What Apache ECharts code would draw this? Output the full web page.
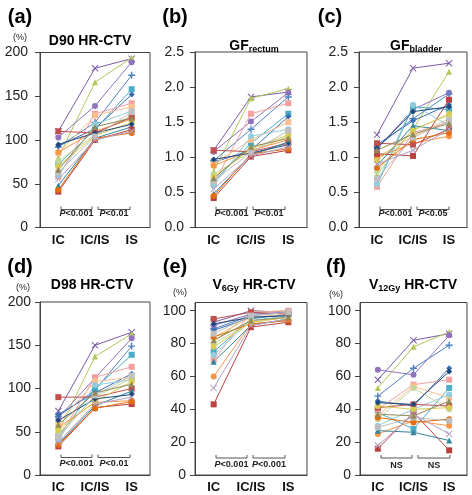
<!DOCTYPE html>
<html><head><meta charset="utf-8">
<script src="https://cdn.jsdelivr.net/npm/echarts@6/dist/echarts.min.js"></script>
<style>html,body{margin:0;padding:0;background:#fff}#c{width:472px;height:495px}</style>
</head><body><div id="c"></div>
<script>
const CATS = ['IC', 'IC/IS', 'IS'];

// (a) D90 HR-CTV (%)
const D90_IC   = [110, 80, 103, 92, 72, 93, 58, 85, 60, 76, 86, 110, 48, 41, 43, 70, 95, 63, 55, 66];
const D90_ICIS = [182, 166, 139, 120, 112, 113, 130, 128, 118, 106, 110, 108, 102, 100, 102, 105, 108, 104, 100, 115];
const D90_IS   = [193, 194, 189, 174, 158, 152, 142, 138, 133, 128, 124, 126, 115, 112, 108, 120, 118, 132, 110, 125];
// (b) GF rectum
const GFR_IC   = [1.10, 0.80, 1.08, 0.95, 0.65, 0.93, 0.62, 0.90, 0.60, 0.76, 0.88, 1.10, 0.48, 0.42, 0.45, 0.72, 0.97, 0.66, 0.55, 0.70];
const GFR_ICIS = [1.86, 1.84, 1.51, 1.40, 1.20, 1.10, 1.62, 1.25, 1.30, 1.08, 1.10, 1.08, 1.03, 1.01, 1.05, 1.12, 1.06, 1.07, 1.02, 1.15];
const GFR_IS   = [1.93, 1.98, 1.92, 1.86, 1.62, 1.58, 1.77, 1.50, 1.40, 1.30, 1.25, 1.20, 1.22, 1.10, 1.12, 1.32, 1.18, 1.38, 1.15, 1.27];
// (c) GF bladder
const GFB_IC   = [1.32, 0.75, 1.12, 1.15, 0.60, 1.18, 0.58, 1.00, 0.62, 0.80, 1.00, 1.20, 0.88, 1.05, 0.85, 0.95, 1.13, 0.70, 0.90, 1.10];
const GFB_ICIS = [2.27, 1.40, 1.68, 1.55, 1.72, 1.52, 1.35, 1.30, 1.75, 1.40, 1.20, 1.18, 1.45, 1.02, 1.25, 1.38, 1.65, 1.28, 1.10, 1.33];
const GFB_IS   = [2.34, 2.22, 1.92, 1.90, 1.68, 1.75, 1.50, 1.55, 1.45, 1.60, 1.30, 1.40, 1.38, 1.82, 1.35, 1.62, 1.72, 1.52, 1.40, 1.48];
// (d) D98 HR-CTV (%)
const D98_IC   = [74, 50, 66, 68, 45, 70, 42, 60, 40, 48, 55, 90, 36, 33, 35, 52, 63, 44, 38, 58];
const D98_ICIS = [150, 137, 112, 98, 100, 95, 113, 108, 104, 90, 84, 90, 80, 78, 77, 85, 88, 92, 82, 95];
const D98_IS   = [165, 163, 158, 149, 139, 117, 125, 113, 110, 112, 86, 100, 97, 82, 85, 108, 93, 115, 90, 105];
// (e) V6Gy HR-CTV (%)
const V6_IC    = [93, 81, 91, 89, 75, 88, 70, 84, 73, 80, 60, 95, 69, 43, 84, 78, 92, 86, 53, 82];
const V6_ICIS  = [100, 99, 98, 97, 95, 96, 99, 96, 94, 93, 92, 99, 91, 90, 92, 93, 96, 97, 91, 94];
const V6_IS    = [99, 100, 99, 99, 98, 97, 100, 98, 97, 96, 94, 98, 95, 93, 94, 96, 97, 99, 95, 96];
// (f) V12Gy HR-CTV (%)
const V12_IC   = [58, 53, 64, 48, 38, 45, 40, 36, 30, 34, 25, 41, 27, 16, 35, 42, 44, 29, 18, 37];
const V12_ICIS = [82, 78, 61, 65, 28, 42, 55, 54, 40, 53, 33, 43, 26, 38, 32, 40, 43, 35, 37, 36];
const V12_IS   = [86, 87, 85, 79, 53, 65, 58, 47, 49, 40, 30, 42, 21, 15, 34, 41, 63, 33, 25, 45];

const P_TEXT = [['P<0.001', 'P<0.01'], ['P<0.001', 'P<0.01'], ['P<0.001', 'P<0.05'],
                ['P<0.001', 'P<0.01'], ['P<0.001', 'P<0.001'], ['NS', 'NS']];

const COLORS = ['#7B5BA6', '#B3C85A', '#9273BD', '#4F81BD', '#4BACC6', '#3A6BAF', '#F2A0A0', '#FAC090',
                '#93CDDD', '#C3D69B', '#F79646', '#C0504D', '#31859C', '#B9423F', '#E46C0A', '#D9CC55',
                '#1F497D', '#BFBFBF', '#B3A2C7', '#948A54'];
const XSYM = 'path://M0,1L1,0L5,4L9,0L10,1L6,5L10,9L9,10L5,6L1,10L0,9L4,5Z';
const PSYM = 'path://M4,0H6V4H10V6H6V10H4V6H0V4H4Z';
const SYMS = [XSYM, 'triangle', 'circle', PSYM, 'rect', 'diamond', 'rect', 'rect', 'circle', 'circle',
              'circle', 'rect', 'triangle', 'rect', 'circle', 'circle', 'diamond', 'rect', XSYM, 'triangle'];

const FONT = 'Liberation Sans, Arial, sans-serif';

const PANELS = [
  {letter: '(a)', lx: 20, ly: 17, title: '{b|D90 HR-CTV}', tx: 90, ty: 41, pct: [27, 37.5],
   left: 40, top: 52.5, w: 110, h: 175, max: 200, ticks: [0, 50, 100, 150, 200], dec: 0, lm: 12,
   data: [D90_IC, D90_ICIS, D90_IS], bY: 209.5, tY: 214},
  {letter: '(b)', lx: 175, ly: 17, title: '{b|GF}{s|rectum}', tx: 254, ty: 46, pct: null,
   left: 195, top: 52, w: 112, h: 175.5, max: 2.5, ticks: [0, 0.5, 1, 1.5, 2, 2.5], dec: 1, lm: 11,
   data: [GFR_IC, GFR_ICIS, GFR_IS], bY: 209.5, tY: 214},
  {letter: '(c)', lx: 330, ly: 17, title: '{b|GF}{s|bladder}', tx: 416, ty: 46, pct: null,
   left: 359, top: 52, w: 108, h: 175.5, max: 2.5, ticks: [0, 0.5, 1, 1.5, 2, 2.5], dec: 1, lm: 11,
   data: [GFB_IC, GFB_ICIS, GFB_IS], bY: 209.5, tY: 214},
  {letter: '(d)', lx: 20, ly: 267, title: '{b|D98 HR-CTV}', tx: 92, ty: 285.5, pct: [30, 288],
   left: 40, top: 302, w: 110, h: 173, max: 200, ticks: [0, 50, 100, 150, 200], dec: 0, lm: 9,
   data: [D98_IC, D98_ICIS, D98_IS], bY: 457.5, tY: 464},
  {letter: '(e)', lx: 175, ly: 267, title: '{b|V}{s|6Gy}{b| HR-CTV}', tx: 254, ty: 285, pct: [187, 293],
   left: 195, top: 302.5, w: 112, h: 172.5, max: 105, ticks: [0, 20, 40, 60, 80, 100], dec: 0, lm: 9,
   data: [V6_IC, V6_ICIS, V6_IS], bY: 458, tY: 465},
  {letter: '(f)', lx: 336, ly: 267, title: '{b|V}{s|12Gy}{b| HR-CTV}', tx: 413, ty: 285.5, pct: [343, 295],
   left: 360, top: 302.5, w: 107, h: 172.5, max: 105, ticks: [0, 20, 40, 60, 80, 100], dec: 0, lm: 9,
   data: [V12_IC, V12_ICIS, V12_IS], bY: 458, tY: 466}
];

const grid = [], xAxis = [], yAxis = [], series = [], graphic = [];
PANELS.forEach((p, i) => {
  grid.push({left: p.left, top: p.top, width: p.w, height: p.h, show: true,
    borderColor: '#444', borderWidth: 1, containLabel: false});
  xAxis.push({type: 'category', gridIndex: i, data: CATS, boundaryGap: true,
    axisLine: {show: true, lineStyle: {color: '#444', width: 1}},
    axisTick: {show: false},
    axisLabel: {color: '#111', fontSize: 13, fontWeight: 'bold', fontFamily: FONT, margin: 6, interval: 0}});
  yAxis.push({type: 'value', gridIndex: i, min: 0, max: p.max,
    splitLine: {show: false},
    axisLine: {show: true, lineStyle: {color: '#444', width: 1}},
    axisTick: {show: true, length: 5, inside: false, customValues: p.ticks, lineStyle: {color: '#444'}},
    axisLabel: {customValues: p.ticks, color: '#222', fontSize: 14, fontFamily: FONT, margin: p.lm,
      formatter: v => Number(v).toFixed(p.dec)}});
  const n = p.data[0].length;
  for (let j = 0; j < n; j++) {
    series.push({type: 'line', xAxisIndex: i, yAxisIndex: i,
      data: [p.data[0][j], p.data[1][j], p.data[2][j]],
      symbol: SYMS[j], symbolSize: SYMS[j] === XSYM || SYMS[j] === PSYM ? 7 : 6,
      color: COLORS[j], lineStyle: {width: 1, color: COLORS[j]},
      itemStyle: {color: COLORS[j]}, silent: true, animation: false, z: 2});
  }
  // panel letter
  graphic.push({type: 'text', x: p.lx, y: p.ly, style: {text: p.letter, font: 'bold 20px ' + FONT,
    fill: '#000', align: 'center', verticalAlign: 'middle'}});
  // title
  graphic.push({type: 'text', x: p.tx, y: p.ty, style: {text: p.title, align: 'center', verticalAlign: 'middle',
    rich: {b: {fontSize: 14, fontWeight: 'bold', fontFamily: FONT, fill: '#000', lineHeight: 16},
           s: {fontSize: 9, fontWeight: 'bold', fontFamily: FONT, fill: '#000', padding: [7, 0, 0, 0], lineHeight: 16}}}});
  if (p.pct) {
    graphic.push({type: 'text', x: p.pct[0], y: p.pct[1], style: {text: '(%)', font: '9px ' + FONT,
      fill: '#222', align: 'right', verticalAlign: 'middle'}});
  }
  // significance brackets
  const segs = [[p.left + 21, p.left + 52], [p.left + 58, p.left + 90]];
  segs.forEach((s, k) => {
    graphic.push({type: 'polyline', shape: {points: [[s[0], p.bY - 3], [s[0], p.bY], [s[1], p.bY], [s[1], p.bY - 3]]},
      style: {stroke: '#555', lineWidth: 1, fill: null}, z: 10});
    const t = P_TEXT[i][k];
    const txt = t.startsWith('P') ? '{i|P}{n|' + t.slice(1) + '}' : '{n|' + t + '}';
    graphic.push({type: 'text', x: (s[0] + s[1]) / 2, y: p.tY, z: 10, style: {text: txt, align: 'center', verticalAlign: 'middle',
      rich: {i: {fontSize: 9, fontStyle: 'italic', fontWeight: 'bold', fontFamily: FONT, fill: '#222'},
             n: {fontSize: 9, fontWeight: 'bold', fontFamily: FONT, fill: '#222'}}}});
  });
});

const chart = echarts.init(document.getElementById('c'), null, {renderer: 'canvas'});
chart.setOption({animation: false, backgroundColor: '#fff', grid, xAxis, yAxis, series, graphic});
</script></body></html>
